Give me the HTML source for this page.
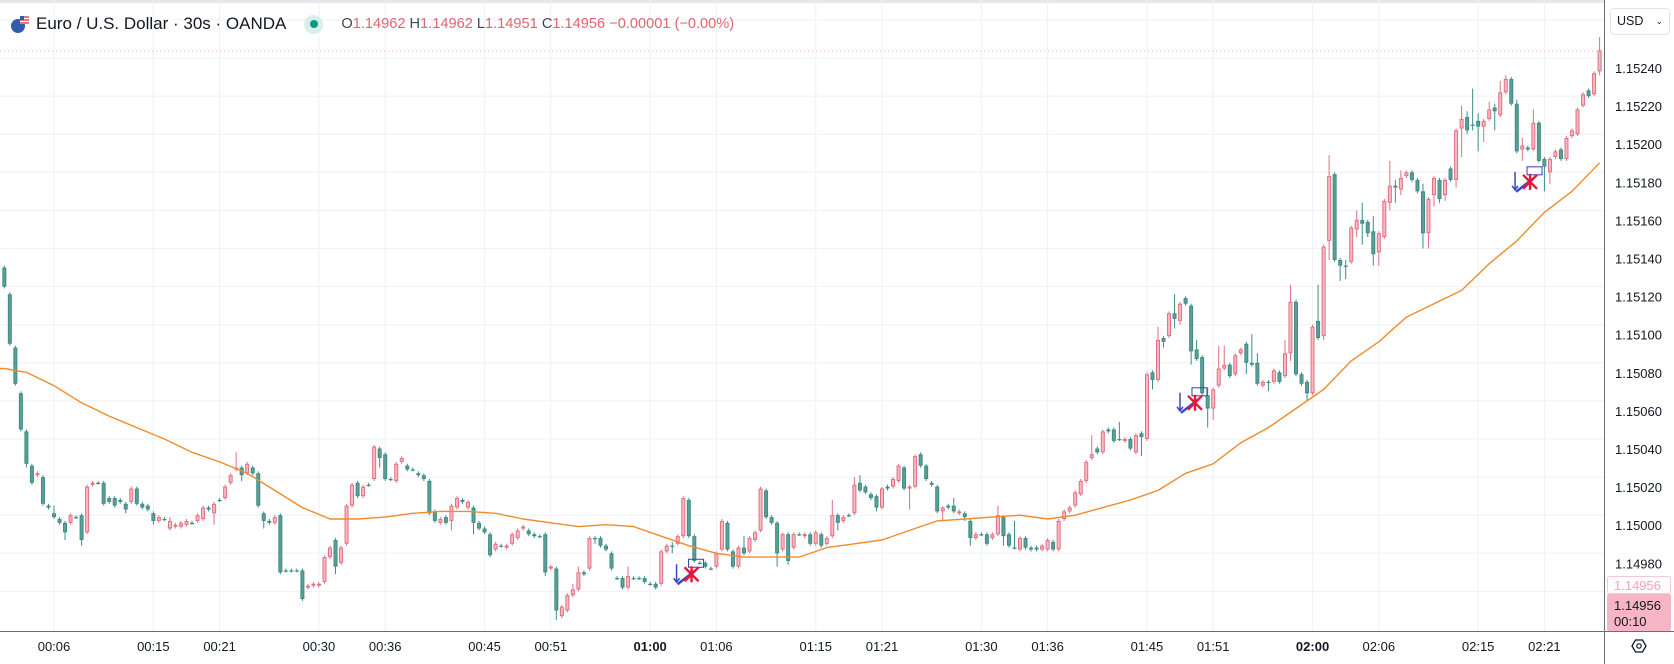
<!DOCTYPE html>
<html><head><meta charset="utf-8">
<style>
html,body{margin:0;padding:0;background:#fff;}
body{width:1674px;height:664px;overflow:hidden;position:relative;font-family:"Liberation Sans",sans-serif;}
#chart{position:absolute;left:0;top:0;}
.hdr{position:absolute;left:0;top:10px;height:26px;display:flex;align-items:center;font-size:15px;color:#131722;white-space:nowrap;}
</style></head>
<body>
<svg id="chart" width="1674" height="664"></svg>
<div class="hdr" style="left:10px;top:11px">
 <svg width="20" height="20" style="margin-right:6px">
  <circle cx="8" cy="12" r="7" fill="#2f5db0"/><rect x="10" y="2" width="9" height="8" fill="#fff"/>
  <path d="M10 3h9M10 6h9M10 9h9" stroke="#e04848" stroke-width="1.5"/><rect x="10" y="2" width="4" height="4" fill="#2f5db0"/>
 </svg>
 <span style="font-size:17px">Euro / U.S. Dollar · 30s · OANDA</span>
 <span style="display:inline-block;width:19px;height:19px;border-radius:50%;background:#d7efe9;margin-left:18px;position:relative"><span style="position:absolute;left:5.5px;top:5.5px;width:8px;height:8px;border-radius:50%;background:#089981"></span></span>
 <span style="font-size:14.6px;margin-left:18px;color:#e0676f">
  <span style="color:#434651">O</span>1.14962 <span style="color:#434651">H</span>1.14962 <span style="color:#434651">L</span>1.14951 <span style="color:#434651">C</span>1.14956 −0.00001 (−0.00%)
 </span>
</div>
<div style="position:absolute;left:1610px;top:8px;width:60px;height:27px;border:1px solid #e0e3eb;border-radius:4px;box-sizing:border-box;font-size:12.5px;color:#131722;line-height:25px;padding-left:6px">USD<span style="position:absolute;right:6px;top:0;font-size:9px">⌄</span></div>
<script>
const base = 1.14, unit = 0.00001;
const firstBar = -9;
const opens = [1130,1116,1088,1064,1044,1026,1021,1020,1005,
1001,998,996,996,999,1000,991,1016,1017,1017,
1009,1009,1008,1006,1007,1014,1006,1005,1001,997,
998,993,994,994,995,996,997,998,1004,1001,
1008,1009,1017,1024,1025,1022,1025,1022,1001,997,
996,1000,971,971,971,971,962,963,963,965,
978,987,975,985,1005,1017,1010,1016,1019,1035,
1032,1019,1018,1028,1026,1024,1022,1021,1018,1002,
996,999,997,1004,1008,1004,1004,996,993,990,
982,984,983,985,988,993,992,990,989,990,
972,972,947,950,958,961,970,972,988,988,
984,980,967,967,962,967,967,967,964,964,
964,981,984,985,989,1008,989,975,975,972,
973,982,996,981,973,983,981,987,992,1013,
999,996,982,990,983,990,989,990,985,990,
985,989,1000,997,1000,1001,1017,1015,1011,1010,
1004,1015,1015,1018,1025,1014,1015,1032,1026,1017,
1015,1002,1005,1005,1001,1001,997,988,990,990,
988,990,999,990,983,982,988,983,983,982,
982,986,982,998,1002,1005,1011,1018,1030,1035,
1033,1045,1045,1040,1039,1040,1033,1043,1040,1075,
1071,1093,1094,1106,1102,1114,1110,1087,1083,1063,
1056,1068,1077,1079,1074,1085,1090,1080,1080,1068,
1070,1070,1075,1073,1085,1112,1074,1070,1064,1102,
1094,1144,1179,1134,1131,1133,1150,1155,1154,1149,
1138,1146,1164,1173,1171,1178,1180,1176,1170,1148,
1168,1176,1168,1182,1176,1203,1209,1205,1207,1204,
1208,1214,1210,1222,1229,1216,1192,1193,1192,1206,
1187,1180,1188,1192,1187,1199,1200,1215,1223,1221,
1233];
const closes = [1120,1090,1069,1045,1027,1017,1022,1006,1004,
999,996,991,1000,999,987,1015,1017,1017,1006,
1007,1005,1007,1003,1014,1006,1004,1003,997,999,
998,997,995,996,997,996,1000,1004,1003,1006,
1008,1015,1021,1025,1021,1027,1022,1005,997,996,
999,970,971,971,971,956,963,964,964,978,
983,973,983,1005,1016,1010,1015,1016,1036,1030,
1019,1019,1027,1030,1024,1024,1021,1019,1001,997,
998,996,1005,1009,1007,1007,996,993,991,979,
985,984,984,990,992,994,990,989,989,970,
973,950,952,958,961,970,969,988,988,984,
982,972,967,962,968,967,967,965,964,962,
981,984,984,989,1009,989,976,975,973,972,
980,997,982,973,983,980,988,991,1014,999,
996,980,990,976,990,990,990,985,991,984,
988,1000,996,999,1000,1016,1013,1012,1009,1004,
1014,1014,1019,1026,1014,1015,1031,1026,1019,1016,
1002,1004,1004,1002,1002,999,988,990,990,985,
990,1000,989,984,983,988,983,982,982,984,
987,982,997,1002,1004,1012,1018,1028,1032,1033,
1044,1044,1039,1040,1040,1035,1042,1041,1074,1071,
1092,1091,1106,1103,1111,1111,1086,1082,1064,1056,
1066,1077,1079,1073,1084,1087,1080,1079,1069,1070,
1070,1076,1070,1085,1112,1074,1069,1064,1099,1093,
1141,1178,1134,1131,1131,1151,1155,1153,1148,1137,
1148,1165,1173,1172,1177,1180,1176,1170,1148,1166,
1177,1166,1176,1176,1202,1208,1202,1205,1204,1207,
1213,1212,1222,1229,1216,1191,1194,1192,1206,1186,
1183,1187,1191,1187,1198,1202,1213,1221,1220,1232,
1244];
const wickUp = [[0,4],[21,2],[33,8],[94,3],[95,3],[104,5],[112,2],[125,6],[141,8],[145,4],[146,4],[163,4],[171,5],[174,14],[188,10],[193,9],[200,7],[203,10],[207,5],[209,4],[211,12],[212,10],[217,15],[218,5],[223,7],[224,9],[229,19],[231,11],[234,3],[236,5],[237,9],[239,8],[242,13],[243,3],[244,4],[248,4],[255,7],[256,3],[257,19],[258,4],[260,4],[261,2],[262,6],[263,2],[265,2],[266,4],[268,7],[280,7]];
const wickDn = [[-5,2],[2,4],[5,3],[13,2],[18,2],[29,6],[34,3],[38,4],[51,4],[59,5],[72,5],[76,6],[89,2],[91,5],[98,3],[112,4],[131,7],[133,2],[142,4],[149,2],[155,11],[161,5],[165,2],[166,4],[172,5],[197,10],[199,5],[201,3],[203,5],[204,2],[206,7],[209,10],[210,6],[216,6],[220,5],[224,4],[227,4],[230,2],[231,10],[233,8],[234,7],[236,4],[237,11],[238,2],[239,6],[240,7],[242,4],[243,8],[244,3],[248,8],[249,8],[250,6],[251,2],[252,3],[254,4],[255,15],[256,2],[257,3],[258,13],[259,8],[261,10],[265,1],[266,6],[270,13],[271,6],[280,2]];
const maBars = [-9,-5,0,5,10,15,20,25,30,35,40,45,50,55,60,65,70,75,80,85,90,95,100,105,110,115,120,125,130,135,140,145,150,155,160,165,170,175,180,185,190,195,200,205,210,215,220,225,230,235,240,245,250,255,260,265,270,275,280];
const maValues = [1077,1075,1068,1059,1052,1046,1040,1033,1028,1022,1013,1004,998,998,999,1001,1002,1002,1001,998,996,994,995,994,989,984,980,978,978,978,983,985,987,992,997,998,999,1000,998,1000,1004,1008,1013,1022,1027,1038,1046,1056,1066,1081,1091,1104,1111,1118,1132,1144,1159,1170,1185];
const priceTicks = [1240,1220,1200,1180,1160,1140,1120,1100,1080,1060,1040,1020,1000,980];
const timeLabels = ["00:06","00:15","00:21","00:30","00:36","00:45","00:51","01:00","01:06","01:15","01:21","01:30","01:36","01:45","01:51","02:00","02:06","02:15","02:21"];
const timeBars = [0,18,30,48,60,78,90,108,120,138,150,168,180,198,210,228,240,258,270];
const signalBars = [115.5,206.7,267.4];
const signalPrices = [969,1059,1175];

const NS="http://www.w3.org/2000/svg";
const svg=document.getElementById('chart');
const X=i=>54+i*5.52;
const Y=u=>58+(1240-u)*1.905;
const PW=1604, PH=631;
function el(t,a,p){const e=document.createElementNS(NS,t);for(const k in a)e.setAttribute(k,a[k]);(p||svg).appendChild(e);return e;}

el('rect',{x:0,y:0,width:1674,height:3,fill:'#e6e8ee'});
const grid=el('g',{});


[1260,...priceTicks,960].forEach(u=>el('line',{x1:0,x2:PW,y1:Y(u),y2:Y(u),stroke:'#eef1f5','stroke-width':1},grid));
timeBars.forEach(b=>el('line',{x1:X(b),x2:X(b),y1:0,y2:PH,stroke:'#eef1f5','stroke-width':1},grid));
const dl=el('line',{x1:0,x2:PW,y1:51,y2:51,stroke:'#f2a7b3','stroke-width':1,'stroke-dasharray':'1 3'});



const plot=el('g',{});


const wu={},wd={};
wickUp.forEach(p=>wu[p[0]]=p[1]);
wickDn.forEach(p=>wd[p[0]]=p[1]);
for(let k=0;k<closes.length;k++){
  const i=k+firstBar,o=opens[k],c=closes[k];
  const bull=c>o;
  const bc=bull?'#e36f7f':'#3b8d85', fc=bull?'#f7b9c5':'#5f9e97';
  const hi=Math.max(o,c)+(wu[i]!==undefined?wu[i]:1);
  const lo=Math.min(o,c)-(wd[i]!==undefined?wd[i]:1);
  const x=X(i);
  const g=el('g',{},plot);
  
  
  el('line',{x1:x,x2:x,y1:Y(hi),y2:Y(lo),stroke:bc,'stroke-width':1},g);
  const yt=Y(Math.max(o,c)), yb=Y(Math.min(o,c));
  const h=Math.max(1.2,yb-yt);
  el('rect',{x:x-2,y:yt,width:4,height:h,fill:bc},g);
  if(h>2.5) el('rect',{x:x-1,y:yt+1,width:2,height:h-2,fill:fc},g);
}
let d='';
maBars.forEach((b,j)=>{d+=(j?'L':'M')+Math.max(0,X(b)).toFixed(1)+' '+Y(maValues[j]).toFixed(1);});
const ma=el('path',{d:'M0 '+Y(maValues[0]).toFixed(1)+' '+d.replace('M','L'),fill:'none',stroke:'#f08b2c','stroke-width':1.4,'stroke-linejoin':'round'});


signalBars.forEach((b,j)=>{
  const x=X(b),y=Y(signalPrices[j]);
  const g=el('g',{});
  
  
  el('rect',{x:x-3,y:y-15,width:15,height:8,fill:'none',stroke:'#3040b0','stroke-width':1},g);
  el('path',{d:`M${x-15} ${y-10}V${y+8}M${x-18} ${y+4}L${x-15} ${y+8}L${x-12} ${y+4}`,fill:'none',stroke:'#3848c0','stroke-width':1.5},g);
  el('path',{d:`M${x-14} ${y+10}L${x+4} ${y-4}`,stroke:'#3848c0','stroke-width':2.5},g);
  el('path',{d:`M${x-7} ${y-7}L${x+7} ${y+7}M${x+7} ${y-7}L${x-7} ${y+7}M${x} ${y-8}V${y+8}`,stroke:'#e8173a','stroke-width':2.4},g);
});
el('rect',{x:PW,y:0,width:1674-PW,height:664,fill:'#fff'});
el('rect',{x:0,y:PH,width:1674,height:33,fill:'#fff'});
el('line',{x1:PW+0.5,x2:PW+0.5,y1:0,y2:664,stroke:'#6a6d78','stroke-width':1});
el('line',{x1:0,x2:1674,y1:PH+0.5,y2:PH+0.5,stroke:'#6a6d78','stroke-width':1});
const pa=el('g',{});


priceTicks.forEach(u=>{
  const t=el('text',{x:1615,y:Y(u)+15,'font-size':13,fill:'#131722','font-family':'Liberation Sans, sans-serif'},pa);
  t.textContent=(base+u*unit).toFixed(5);
  
  
});
const ta=el('g',{});


timeLabels.forEach((s,j)=>{
  const t=el('text',{x:X(timeBars[j]),y:651,'font-size':13,fill:'#131722','text-anchor':'middle','font-weight':s.endsWith(':00')?'bold':'normal','font-family':'Liberation Sans, sans-serif'},ta);
  t.textContent=s;
  
  
});
const lb=el('g',{});


el('rect',{x:1607.5,y:576.5,width:63,height:17,fill:'#fff',stroke:'#f6c9d2',rx:2},lb);
let t=el('text',{x:1614,y:590,'font-size':13,fill:'#f3a3b4','font-family':'Liberation Sans, sans-serif'},lb);t.textContent='1.14956';
el('rect',{x:1607,y:594,width:64,height:37,fill:'#f6b5c4',rx:2},lb);
t=el('text',{x:1614,y:610,'font-size':13,fill:'#131722','font-family':'Liberation Sans, sans-serif'},lb);t.textContent='1.14956';
t=el('text',{x:1614,y:626,'font-size':13,fill:'#131722','font-family':'Liberation Sans, sans-serif'},lb);t.textContent='00:10';
const si=el('g',{});


el('path',{d:'M1632 646L1635.5 640H1642.5L1646 646L1642.5 652H1635.5Z',fill:'none',stroke:'#131722','stroke-width':1.3},si);
el('circle',{cx:1639,cy:646,r:2.2,fill:'none',stroke:'#131722','stroke-width':1.2},si);
</script>
</body></html>
